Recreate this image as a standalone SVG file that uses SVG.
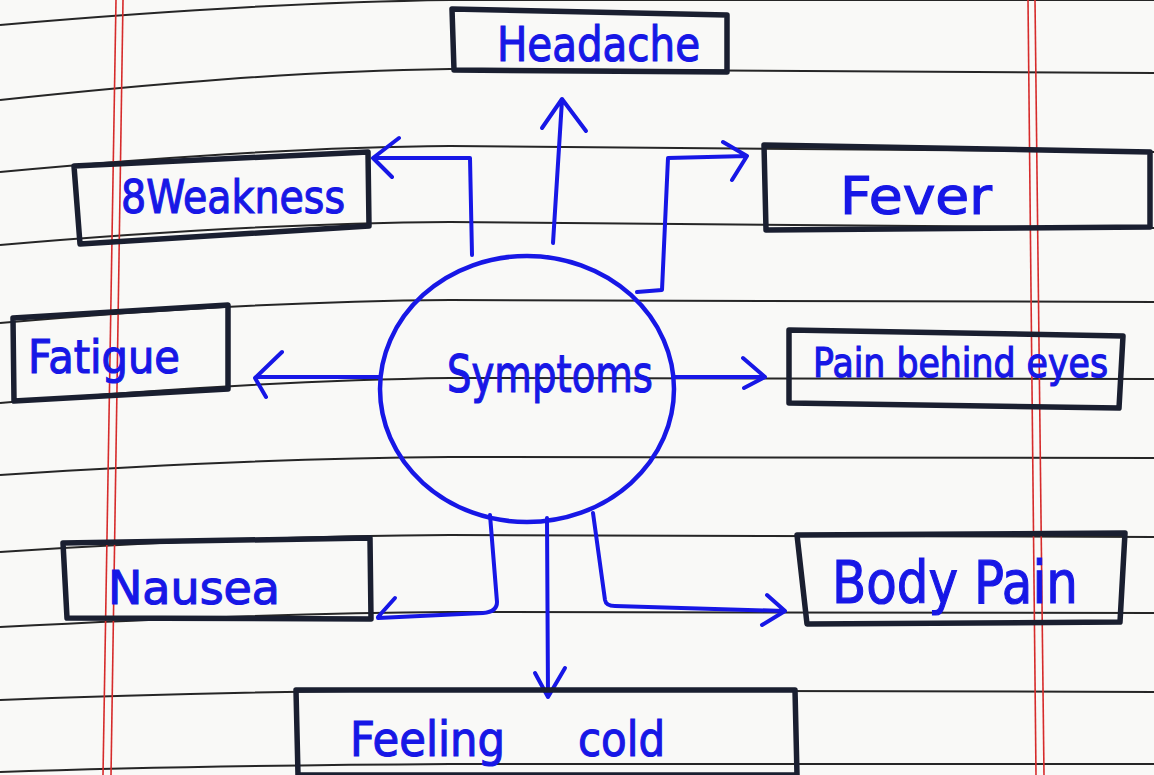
<svg xmlns="http://www.w3.org/2000/svg" width="1154" height="775" viewBox="0 0 1154 775">
<style>
.rule{fill:none;stroke:#262626;stroke-width:2}
.margin{stroke:#d62b2b;stroke-width:1.6}
.box{fill:none;stroke:#1a1f30;stroke-width:5.5;stroke-linejoin:round;stroke-linecap:round}
.lbl{font-family:"DejaVu Sans","Liberation Sans",sans-serif;fill:#1717e6;stroke:#1717e6;stroke-width:1.2}
.conn{fill:none;stroke:#1717e6;stroke-width:4;stroke-linecap:round;stroke-linejoin:round}
</style>
<rect width="1154" height="775" fill="#f9f9f7"/>
<g id="paper">
<path class="rule" d="M0,25 C150,12 300,2 450,0 L1154,0"/>
<path class="rule" d="M0,100 C150,84 300,71 450,69 L1154,73"/>
<path class="rule" d="M0,172 C150,158 300,147 450,146 L1154,152"/>
<path class="rule" d="M0,245 C150,232 300,223 450,222 L1154,228"/>
<path class="rule" d="M0,323 C150,310 300,301 450,300 L1154,302"/>
<path class="rule" d="M0,403 C150,390 300,380 450,378 L1154,379"/>
<path class="rule" d="M0,475 C150,465 300,458 450,457 L1154,458"/>
<path class="rule" d="M0,552 C150,542 300,536 450,535 L1154,537"/>
<path class="rule" d="M0,627 C150,619 300,613 450,612 L1154,613"/>
<path class="rule" d="M0,700 C150,694 300,691 450,690 L1154,692"/>
<path class="rule" d="M0,772 C150,767 300,765 450,764 L1154,764"/>
<line class="margin" x1="116" y1="0" x2="103" y2="775"/>
<line class="margin" x1="123" y1="0" x2="111" y2="775"/>
<line class="margin" x1="1028" y1="0" x2="1036" y2="775"/>
<line class="margin" x1="1035" y1="0" x2="1044" y2="775"/>
</g>
<g id="connectors">
<path class="conn" d="M553,243 L562,100 M542,128 L562,99 L586,131"/>
<path class="conn" d="M472,255 L470,158 L374,158 M399,138 L373,158 L392,177"/>
<path class="conn" d="M637,292 L662,290 L668,158 L747,156 M723,142 L747,156 L732,180"/>
<path class="conn" d="M380,377 L256,377 M282,352 L255,378 L266,397"/>
<path class="conn" d="M673,377 L765,377 M743,358 L765,377 L744,388"/>
<path class="conn" d="M490,515 L497,602 Q497,612 483,613 L378,618 M395,598 L378,617"/>
<path class="conn" d="M547,518 L548,697 M535,673 L548,697 L565,668"/>
<path class="conn" d="M593,513 L605,600 Q606,606 615,606 L784,611 M767,595 L785,611 L762,625"/>
</g>
<g id="symptoms">
<ellipse cx="527" cy="389" rx="147" ry="133" fill="none" stroke="#1717e6" stroke-width="4.5"/>
<text class="lbl" x="447" y="392" font-size="52" textLength="206" lengthAdjust="spacingAndGlyphs">Symptoms</text>
</g>
<g id="headache">
<polygon class="box" points="452,9 727,15 727,72 454,70"/>
<text class="lbl" x="497" y="61" font-size="48" textLength="203" lengthAdjust="spacingAndGlyphs">Headache</text>
</g>
<g id="weakness">
<polygon class="box" points="74,166 368,152 369,226 80,244"/>
<text class="lbl" x="121" y="213" font-size="46" textLength="224" lengthAdjust="spacingAndGlyphs">8Weakness</text>
</g>
<g id="fever">
<polygon class="box" points="764,145 1150,152 1150,227 766,230"/>
<text class="lbl" x="840" y="214" font-size="52" textLength="152" lengthAdjust="spacingAndGlyphs">Fever</text>
</g>
<g id="fatigue">
<polygon class="box" points="13,318 228,305 228,389 14,401"/>
<text class="lbl" x="28" y="373" font-size="46" textLength="152" lengthAdjust="spacingAndGlyphs">Fatigue</text>
</g>
<g id="pain-behind-eyes">
<polygon class="box" points="789,330 1123,336 1119,408 789,403"/>
<text class="lbl" x="813" y="377" font-size="40" textLength="295" lengthAdjust="spacingAndGlyphs">Pain behind eyes</text>
</g>
<g id="nausea">
<polygon class="box" points="63,543 370,538 371,619 67,618"/>
<text class="lbl" x="108" y="604" font-size="46" textLength="172" lengthAdjust="spacingAndGlyphs">Nausea</text>
</g>
<g id="body-pain">
<polygon class="box" points="797,535 1125,533 1120,622 807,624"/>
<text class="lbl" x="832" y="603" font-size="58" textLength="246" lengthAdjust="spacingAndGlyphs">Body Pain</text>
</g>
<g id="feeling-cold">
<polygon class="box" points="296,690 795,690 797,775 298,775"/>
<text class="lbl" y="756" font-size="48"><tspan x="350" textLength="155" lengthAdjust="spacingAndGlyphs">Feeling</tspan><tspan x="578" textLength="87" lengthAdjust="spacingAndGlyphs">cold</tspan></text>
</g>
</svg>
